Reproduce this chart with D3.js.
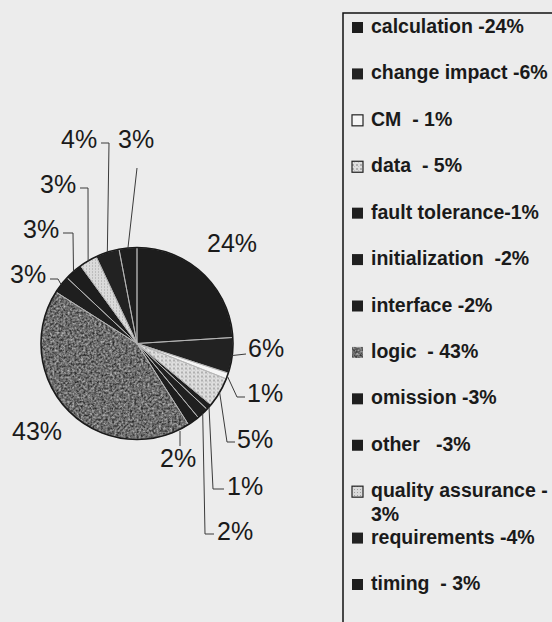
<!DOCTYPE html>
<html>
<head>
<meta charset="utf-8">
<script src="https://cdn.jsdelivr.net/npm/d3@7"></script>
<style>
  html, body { margin: 0; background: #ececec; }
  svg { display: block; }
  text { font-family: "Liberation Sans", Arial, sans-serif; fill: #1a1a1a; }
</style>
</head>
<body>
<svg id="chart" width="552" height="622"></svg>
<script>
// defect categories, clockwise from 12 o'clock
const categories = [
  "calculation", "change impact", "CM", "data", "fault tolerance", "initialization",
  "interface", "logic", "omission", "other", "quality assurance", "requirements", "timing"
];
const shares = [24, 6, 1, 5, 1, 2, 2, 43, 3, 3, 3, 4, 3];
const legendLabels = [
  ["calculation -24%"], ["change impact -6%"], ["CM  - 1%"], ["data  - 5%"],
  ["fault tolerance-1%"], ["initialization  -2%"], ["interface -2%"], ["logic  - 43%"],
  ["omission -3%"], ["other   -3%"], ["quality assurance -", "3%"], ["requirements -4%"],
  ["timing  - 3%"]
];

// styling, one per category
const sliceFills = [
  "#1d1d1d", "#222", "#f5f5f5", "url(#checks)", "#1f1f1f", "#202020",
  "#1e1e1e", "#6e6e6e", "#1f1f1f", "#1d1d1d", "url(#dots)", "#222", "#1e1e1e"
];

// label layout: text position (left, baseline) and leader bends after the slice edge
const labelLayout = [
  { x: 207, y: 252, bends: null },
  { x: 248, y: 357, bends: [[246, 354]] },
  { x: 247, y: 402, bends: [[237, 397], [245, 397]] },
  { x: 237, y: 448, bends: [[227, 442], [235, 442]] },
  { x: 227, y: 495, bends: [[213, 489], [224, 489]] },
  { x: 217, y: 540, bends: [[205, 534], [214, 534]] },
  { x: 160, y: 467, bends: [[180, 446]], from: [180, 431] },
  { x: 12, y: 440, bends: null },
  { x: 10, y: 283, bends: [[58, 279], [50, 279]] },
  { x: 23, y: 238, bends: [[73, 233], [63, 233]] },
  { x: 40, y: 193, bends: [[88, 188], [80, 188]] },
  { x: 61, y: 148, bends: [[109, 143], [101, 143]] },
  { x: 118, y: 148, bends: [[137, 168]] }
];

const cx = 137, cy = 343.5, r = 96;
const svg = d3.select("#chart");

// textures
const defs = svg.append("defs");
const speckle = defs.append("filter").attr("id", "speckle")
  .attr("x", 0).attr("y", 0).attr("width", 1).attr("height", 1)
  .attr("color-interpolation-filters", "sRGB");
speckle.append("feTurbulence").attr("type", "fractalNoise")
  .attr("baseFrequency", 0.45).attr("numOctaves", 2).attr("seed", 4).attr("result", "n");
speckle.append("feColorMatrix").attr("in", "n").attr("type", "matrix")
  .attr("values", "0.85 0 0 0 0  0.85 0 0 0 0  0.85 0 0 0 0  0 0 0 0 1")
  .attr("result", "g");
speckle.append("feComposite").attr("in", "g").attr("in2", "SourceGraphic").attr("operator", "in");

const checks = defs.append("pattern").attr("id", "checks")
  .attr("patternUnits", "userSpaceOnUse").attr("width", 4).attr("height", 4);
checks.append("rect").attr("width", 4).attr("height", 4).attr("fill", "#dedede");
checks.append("rect").attr("width", 2).attr("height", 2).attr("fill", "#b0b0b0");
checks.append("rect").attr("x", 2).attr("y", 2).attr("width", 1).attr("height", 1).attr("fill", "#c2c2c2");

const dots = defs.append("pattern").attr("id", "dots")
  .attr("patternUnits", "userSpaceOnUse").attr("width", 3).attr("height", 3);
dots.append("rect").attr("width", 3).attr("height", 3).attr("fill", "#dadada");
dots.append("rect").attr("width", 1).attr("height", 1).attr("fill", "#a0a0a0");

// pie
const pie = d3.pie().sort(null).value(d => d)(shares);
const arc = d3.arc().innerRadius(0).outerRadius(r);
const g = svg.append("g").attr("transform", `translate(${cx},${cy})`);

g.selectAll("path.slice")
  .data(pie)
  .join("path")
  .attr("class", "slice")
  .attr("d", arc)
  .attr("fill", (d, i) => sliceFills[i])
  .attr("filter", (d, i) => categories[i] === "logic" ? "url(#speckle)" : null);

// light separators drawn over the fills
g.selectAll("path.edge")
  .data(pie)
  .join("path")
  .attr("class", "edge")
  .attr("d", arc)
  .attr("fill", "none")
  .attr("stroke", "#b4b4b4")
  .attr("stroke-width", 0.9);

g.append("circle").attr("r", r).attr("fill", "none")
  .attr("stroke", "#1a1a1a").attr("stroke-width", 1.6);

// leader lines + labels
const edgePoint = d => {
  const a = (d.startAngle + d.endAngle) / 2;
  return [cx + r * Math.sin(a), cy - r * Math.cos(a)];
};

pie.forEach((d, i) => {
  const lay = labelLayout[i];
  if (lay.bends) {
    const pts = [lay.from || edgePoint(d), ...lay.bends];
    svg.append("path")
      .attr("d", d3.line()(pts))
      .attr("fill", "none")
      .attr("stroke", "#3a3a3a")
      .attr("stroke-width", 1);
  }
  svg.append("text")
    .attr("x", lay.x).attr("y", lay.y)
    .attr("font-size", 25)
    .text(shares[i] + "%");
});

// legend
const lg = svg.append("g");
lg.append("rect")
  .attr("x", 343).attr("y", 13).attr("width", 260).attr("height", 660)
  .attr("fill", "none").attr("stroke", "#111").attr("stroke-width", 1.5);

const rowY = d3.scaleLinear().domain([0, categories.length - 1]).range([33, 590]);

categories.forEach((c, i) => {
  const y = rowY(i);
  const light = sliceFills[i].startsWith("url") || sliceFills[i] === "#f5f5f5";
  lg.append("rect")
    .attr("x", 352).attr("y", y - 11).attr("width", 11).attr("height", 11)
    .attr("fill", sliceFills[i])
    .attr("filter", c === "logic" ? "url(#speckle)" : null)
    .attr("stroke", light ? "#222" : "none")
    .attr("stroke-width", 1.2);
  const t = lg.append("text")
    .attr("x", 371).attr("y", y)
    .attr("font-size", 19.5)
    .attr("font-weight", "bold")
    .style("white-space", "pre");
  legendLabels[i].forEach((line, k) => {
    t.append("tspan").attr("x", 371).attr("dy", k === 0 ? 0 : 24).text(line);
  });
});
</script>
</body>
</html>
